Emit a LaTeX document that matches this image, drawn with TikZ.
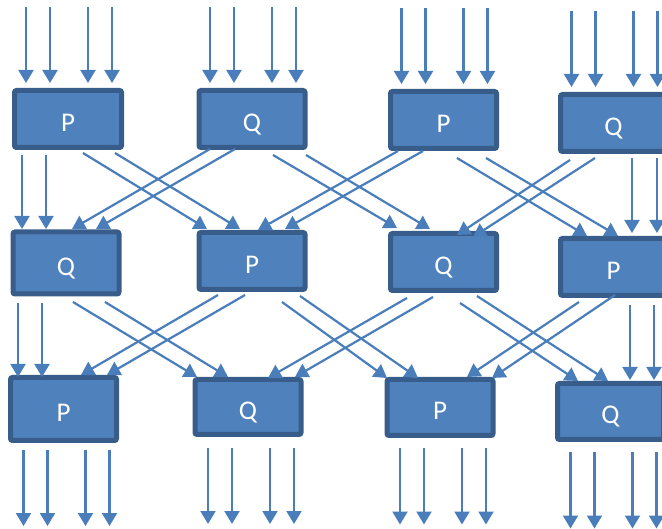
\documentclass[tikz,border=0pt]{standalone}
\usepackage{fontspec}
\setmainfont{Carlito}
\usetikzlibrary{arrows.meta}
\definecolor{boxfill}{HTML}{4F81BD}
\definecolor{boxedge}{HTML}{385D8A}
\definecolor{wire}{HTML}{4A7EBB}
\tikzset{
  block/.style={draw=boxedge, fill=boxfill, line width=5pt, rounded corners=2pt,
    text=white, font=\fontsize{27}{27}\selectfont, inner sep=0pt,
    text height=25pt, text depth=0pt,
    minimum width=106pt, minimum height=57pt},
  arr/.style={draw=wire, line width=2.2pt,
    -{Triangle[length=13pt,width=15pt]}}
}
% connector between two boxes, each end given as an offset from the box centre
\newcommand\linkarrow[4]{\draw[arr] ([shift={#2}]#1.center) -- ([shift={#4}]#3.center);}
\begin{document}
\begin{tikzpicture}[x=1pt,y=-1pt]
\useasboundingbox (0,0) rectangle (662,529);
\clip (0,0) rectangle (662,529);

% first row
\node[block, minimum width=107pt] (a1) at (68,119)    {P};
\node[block] (a2) at (252,119)   {Q};
\node[block] (a3) at (443.5,120) {P};
\node[block] (a4) at (613.5,123) {Q};
% second row
\node[block, minimum height=62pt] (b1) at (66,263) {Q};
\node[block] (b2) at (252,261)   {P};
\node[block] (b3) at (443.5,262) {Q};
\node[block] (b4) at (613.5,267) {P};
% third row
\node[block, minimum height=63pt] (c1) at (63.5,409) {P};
\node[block, minimum height=55pt] (c2) at (248,407)  {Q};
\node[block, minimum height=56pt] (c3) at (440,407.5) {P};
\node[block, minimum height=56pt] (c4) at (610.5,411.5) {Q};

% inputs into the first row
\foreach \b in {a1,a2,a3,a4}{
  \foreach \k/\dx in {1/-42,2/-18,3/20,4/44}{
    \coordinate (\b in\k) at ([shift={(\dx,-112)}]\b.center);
    \draw[arr] (\b in\k) -- ([shift={(\dx,-36)}]\b.center);
  }
}
% outputs from the third row
\foreach \b in {c1,c2,c3,c4}{
  \foreach \k/\dx in {1/-40,2/-16,3/22,4/46}{
    \coordinate (\b out\k) at ([shift={(\dx,117)}]\b.center);
    \draw[arr] ([shift={(\dx,41)}]\b.center) -- (\b out\k);
  }
}

% first row to second row
\linkarrow{a1}{(-46,36)}{b1}{(-44,-34)}
\linkarrow{a1}{(-22,36)}{b1}{(-20,-34)}
\linkarrow{a1}{(15,34)}{b2}{(-45,-32)}
\linkarrow{a1}{(47,34)}{b2}{(-12,-32)}
\linkarrow{a2}{(-42,30)}{b1}{(6,-34)}
\linkarrow{a2}{(-17,30)}{b1}{(30,-34)}
\linkarrow{a2}{(21,36)}{b3}{(-46.5,-34)}
\linkarrow{a2}{(54,36)}{b3}{(-13.5,-33)}
\linkarrow{a3}{(-45.5,31)}{b2}{(6,-31)}
\linkarrow{a3}{(-20.5,31)}{b2}{(33,-32)}
\linkarrow{a3}{(13.5,38)}{b4}{(-26.5,-31)}
\linkarrow{a3}{(42.5,38)}{b4}{(4.5,-31)}
\linkarrow{a4}{(-43.5,37)}{b3}{(13.5,-27)}
\linkarrow{a4}{(-18.5,35)}{b3}{(29.5,-25)}
\linkarrow{a4}{(18.5,35)}{b4}{(18.5,-34)}
\linkarrow{a4}{(43.5,35)}{b4}{(43.5,-34)}

% second row to third row
\linkarrow{b1}{(-48,40)}{c1}{(-45.5,-32)}
\linkarrow{b1}{(-24,40)}{c1}{(-21.5,-32)}
\linkarrow{b1}{(7,39)}{c2}{(-51,-30)}
\linkarrow{b1}{(39,39)}{c2}{(-20,-30)}
\linkarrow{b2}{(-34,34)}{c1}{(17.5,-34)}
\linkarrow{b2}{(-7,34)}{c1}{(43.5,-34)}
\linkarrow{b2}{(30,41)}{c3}{(-53,-29.5)}
\linkarrow{b2}{(48,35)}{c3}{(-22,-29.5)}
\linkarrow{b3}{(-36.5,36)}{c2}{(20,-29)}
\linkarrow{b3}{(-10.5,35)}{c2}{(47,-30)}
\linkarrow{b3}{(16.5,41)}{c4}{(-32.5,-30.5)}
\linkarrow{b3}{(33.5,34)}{c4}{(-2.5,-30.5)}
\linkarrow{b4}{(-34.5,35)}{c3}{(27,-30.5)}
\linkarrow{b4}{(1.5,28)}{c3}{(52,-29.5)}
\linkarrow{b4}{(16.5,38)}{c4}{(19.5,-31.5)}
\linkarrow{b4}{(40.5,38)}{c4}{(43.5,-31.5)}
\end{tikzpicture}
\end{document}
